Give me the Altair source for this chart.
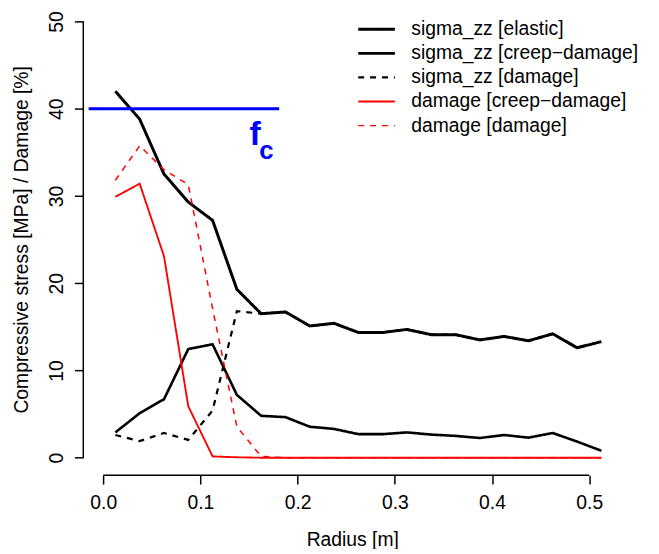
import altair as alt
import pandas as pd

radius = [0.0125, 0.0375, 0.0625, 0.0875, 0.1125, 0.1375, 0.1625, 0.1875, 0.2125,
          0.2375, 0.2625, 0.2875, 0.3125, 0.3375, 0.3625, 0.3875, 0.4125, 0.4375,
          0.4625, 0.4875, 0.5125]
sigma_elastic = [42.0, 38.8, 32.5, 29.3, 27.2, 19.3, 16.5, 16.7, 15.1, 15.4, 14.35,
                 14.35, 14.7, 14.1, 14.1, 13.5, 13.9, 13.4, 14.2, 12.6, 13.3]
sigma_creep = [2.9, 5.1, 6.7, 12.45, 13.0, 7.2, 4.8, 4.65, 3.55, 3.3, 2.7, 2.7, 2.9,
               2.65, 2.5, 2.26, 2.6, 2.3, 2.83, 1.85, 0.8]
sigma_damage = [2.6, 1.9, 2.83, 2.04, 5.4, 16.8, 16.5, 16.7, 15.1, 15.4, 14.35, 14.35,
                14.7, 14.1, 14.1, 13.5, 13.9, 13.4, 14.2, 12.6, 13.3]
damage_creep = [29.9, 31.4, 23.1, 5.9, 0.15, 0.05, 0, 0, 0, 0, 0, 0, 0, 0, 0, 0, 0, 0,
                0, 0, 0]
damage_damage = [31.8, 35.75, 33.0, 31.3, 17.1, 3.55, 0.15, 0, 0, 0, 0, 0, 0, 0, 0, 0,
                 0, 0, 0, 0, 0]

series_names = ["sigma_zz [elastic]", "sigma_zz [creep\u2212damage]", "sigma_zz [damage]",
                "damage [creep\u2212damage]", "damage [damage]"]
series_values = [sigma_elastic, sigma_creep, sigma_damage, damage_creep, damage_damage]
series_colors = ["black", "black", "black", "#ff0000", "#ff0000"]
series_dashes = [[1, 0], [1, 0], [6, 6], [1, 0], [6, 6]]
series_widths = [3, 1.5, 1.5, 1.5, 1.5]

fc_x = [-0.015, 0.181]
fc_level = 40
fc_label_x = 0.1504
fc_label_y = 35.8
fc_sub_x = 0.1606
fc_sub_y = 34.2

x_ticks = [0.0, 0.1, 0.2, 0.3, 0.4, 0.5]
y_ticks = [0, 10, 20, 30, 40, 50]
x_domain = [-0.0205, 0.533]
y_domain = [-2, 50]

FONT = "Liberation Sans"

rows = []
for name, vals in zip(series_names, series_values):
    for i, (r, v) in enumerate(zip(radius, vals)):
        rows.append({"series": name, "r": r, "v": v, "i": i})
df = pd.DataFrame(rows)

xs = alt.Scale(domain=x_domain, nice=False, zero=False)
ys = alt.Scale(domain=y_domain, nice=False, zero=False)

legend = alt.Legend(title=None, orient="none", legendX=276, legendY=-3,
                    symbolType="stroke", symbolSize=1369, labelFont=FONT,
                    labelFontSize=19.5, labelColor="black", labelOffset=15,
                    clipHeight=22, rowPadding=2.3, labelLimit=400)

xaxis = alt.Axis(values=x_ticks, format=".1f", domain=False, grid=False, tickSize=9,
                 tickWidth=1.5, tickColor="black", labelFont=FONT, labelFontSize=19.5,
                 labelColor="black", labelBaseline="alphabetic", labelPadding=25,
                 title="Radius [m]", titleFont=FONT, titleFontSize=19.5,
                 titleFontWeight="normal", titleColor="black",
                 titleBaseline="alphabetic", titleY=71, titleX=271.5,
                 titleAlign="center")
yaxis = alt.Axis(values=y_ticks, domain=False, grid=False, tickSize=9, tickWidth=1.5,
                 tickColor="black", labelFont=FONT, labelFontSize=19.5,
                 labelColor="black", labelAngle=270, labelAlign="center",
                 labelBaseline="alphabetic", labelPadding=12,
                 title="Compressive stress [MPa] / Damage [%]", titleFont=FONT,
                 titleFontSize=19.5, titleFontWeight="normal", titleColor="black",
                 titleAngle=270, titleBaseline="alphabetic", titleAlign="center",
                 titleX=-56, titleY=220)

lines = alt.Chart(df).mark_line(clip=False).encode(
    x=alt.X("r:Q", scale=xs, axis=xaxis),
    y=alt.Y("v:Q", scale=ys, axis=yaxis),
    color=alt.Color("series:N", scale=alt.Scale(domain=series_names, range=series_colors),
                    legend=legend),
    strokeDash=alt.StrokeDash("series:N",
                              scale=alt.Scale(domain=series_names, range=series_dashes),
                              legend=legend),
    strokeWidth=alt.StrokeWidth("series:N",
                                scale=alt.Scale(domain=series_names, range=series_widths),
                                legend=legend),
    order="i:Q",
)

fc_df = pd.DataFrame({"r": fc_x, "v": [fc_level] * len(fc_x)})
fc_line = alt.Chart(fc_df).mark_line(color="#0000ff", strokeWidth=3).encode(
    x=alt.X("r:Q", scale=xs), y=alt.Y("v:Q", scale=ys))

f_text = alt.Chart(pd.DataFrame({"r": [fc_label_x], "v": [fc_label_y], "t": ["f"]})).mark_text(
    font=FONT, fontSize=34, fontWeight="bold", color="#0000ff", align="left",
    baseline="alphabetic").encode(x=alt.X("r:Q", scale=xs), y=alt.Y("v:Q", scale=ys), text="t:N")
c_text = alt.Chart(pd.DataFrame({"r": [fc_sub_x], "v": [fc_sub_y], "t": ["c"]})).mark_text(
    font=FONT, fontSize=26, fontWeight="bold", color="#0000ff", align="left",
    baseline="alphabetic").encode(x=alt.X("r:Q", scale=xs), y=alt.Y("v:Q", scale=ys), text="t:N")

x_axis_span = [0.0, 0.5]
y_axis_span = [0, 50]
xline = alt.Chart(pd.DataFrame({"a": [x_axis_span[0]], "b": [x_axis_span[1]], "c": [y_domain[0]]})).mark_rule(
    color="black", strokeWidth=1.5).encode(x=alt.X("a:Q", scale=xs), x2="b:Q", y=alt.Y("c:Q", scale=ys))
yline = alt.Chart(pd.DataFrame({"a": [y_axis_span[0]], "b": [y_axis_span[1]], "c": [x_domain[0]]})).mark_rule(
    color="black", strokeWidth=1.5).encode(y=alt.Y("a:Q", scale=ys), y2="b:Q", x=alt.X("c:Q", scale=xs))

chart = alt.layer(lines, fc_line, f_text, c_text, xline, yline).properties(
    width=543, height=458,
    autosize=alt.AutoSizeParams(type="none"),
    padding={"left": 76, "top": 11, "right": 30, "bottom": 72},
    background="white",
).configure_view(stroke=None)

chart.save("out.html", embed_options={"renderer": "svg", "actions": False})
